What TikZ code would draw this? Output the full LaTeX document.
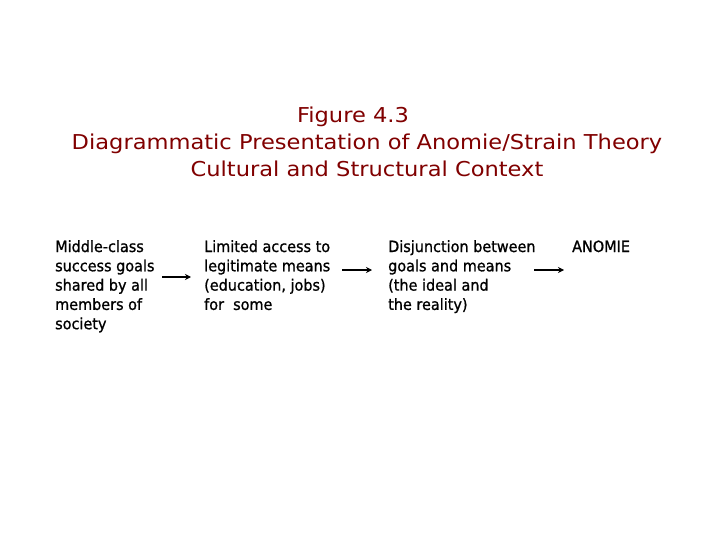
\documentclass[tikz,border=0pt]{standalone}
\usepackage{fontspec}
\setmainfont{DejaVu Sans}
\newfontfamily\titlefont[FakeStretch=1.1]{DejaVu Sans}
\newfontfamily\bodyfont[FakeStretch=0.93,FakeBold=1]{DejaVu Sans}
\usetikzlibrary{arrows.meta}
\definecolor{titlered}{RGB}{128,0,0}
\begin{document}
\begin{tikzpicture}[x=1pt,y=1pt,
  titletext/.style={text=titlered,font=\titlefont\fontsize{20.5}{26}\selectfont,inner sep=0pt,anchor=base},
  bodytext/.style={font=\bodyfont\fontsize{15.5}{19.3}\selectfont,inner sep=0pt,anchor=base west},
  flow/.style={-{Stealth[length=6pt,width=6pt]},line width=1.4pt}]
\useasboundingbox (0,0) rectangle (720,-540);
\node[titletext] (t1) at (353,-123) {Figure 4.3};
\node[titletext] (t2) at (367,-150) {Diagrammatic Presentation of Anomie/Strain Theory};
\node[titletext] (t3) at (367,-177) {Cultural and Structural Context};
\node[bodytext] (c1) at (55,-252) {\begin{tabular}[t]{@{}l@{}}Middle-class\\success goals\\shared by all\\members of\\society\end{tabular}};
\node[bodytext] (c2) at (204,-252) {\begin{tabular}[t]{@{}l@{}}Limited access to\\legitimate means\\(education, jobs)\\for\ \ some\end{tabular}};
\node[bodytext] (c3) at (388,-252) {\begin{tabular}[t]{@{}l@{}}Disjunction between\\goals and means\\(the ideal and\\the reality)\end{tabular}};
\node[bodytext] (c4) at (572,-252) {ANOMIE};
\coordinate (a1s) at (162,-277);
\coordinate (a1e) at (191,-277);
\coordinate (a2s) at (342,-270);
\coordinate (a2e) at (372,-270);
\coordinate (a3s) at (534,-270);
\coordinate (a3e) at (564,-270);
\draw[flow] (a1s) -- (a1e);
\draw[flow] (a2s) -- (a2e);
\draw[flow] (a3s) -- (a3e);
\end{tikzpicture}
\end{document}
